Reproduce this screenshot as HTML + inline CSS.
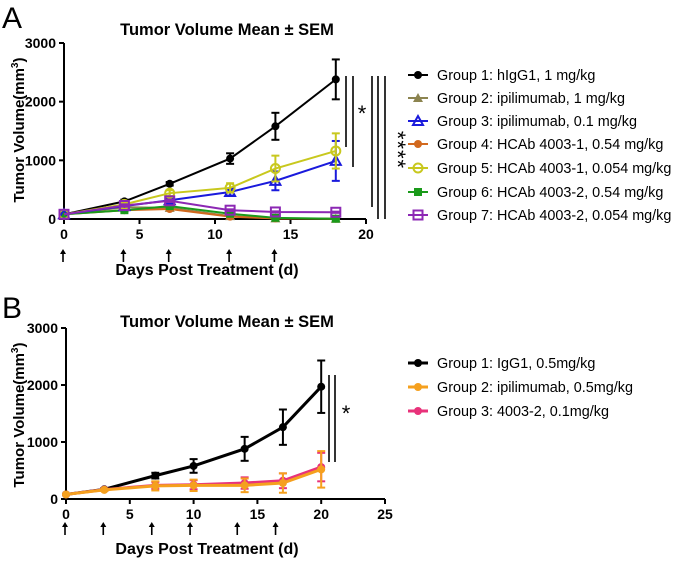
<!DOCTYPE html>
<html><head><meta charset="utf-8"><style>
body{margin:0;background:#fff;}
svg{display:block;font-family:"Liberation Sans",Arial,sans-serif;}
.b{font-weight:bold;}
</style></head><body>
<svg id="c" width="676" height="563" viewBox="0 0 676 563"></svg>
<script>
// Panel A data
const daysA=[0,4,7,11,14,18];
const namesA=["Group 1: hIgG1, 1 mg/kg","Group 2: ipilimumab, 1 mg/kg","Group 3: ipilimumab, 0.1 mg/kg","Group 4: HCAb 4003-1, 0.54 mg/kg","Group 5: HCAb 4003-1, 0.054 mg/kg","Group 6: HCAb 4003-2, 0.54 mg/kg","Group 7: HCAb 4003-2, 0.054 mg/kg"];
const g1A=[80,300,600,1030,1580,2380], g1AErr=[0,30,30,90,230,340];
const g2A=[80,200,190,50,10,5], g2AErr=[0,20,20,10,5,5];
const g3A=[80,220,320,460,650,990], g3AErr=[0,30,40,60,160,340];
const g4A=[80,150,170,40,10,5], g4AErr=[0,20,20,10,5,5];
const g5A=[80,250,440,530,860,1160], g5AErr=[0,30,50,80,220,300];
const g6A=[80,150,220,90,20,5], g6AErr=[0,20,20,10,5,5];
const g7A=[80,230,310,150,120,115], g7AErr=[0,20,20,15,10,10];
const xTicksA=[0,5,10,15,20], yTicks=[0,1000,2000,3000];
const doseDaysA=[0,4,7,11,14];
// Panel B data
const daysB=[0,3,7,10,14,17,20];
const namesB=["Group 1: IgG1, 0.5mg/kg","Group 2: ipilimumab, 0.5mg/kg","Group 3: 4003-2, 0.1mg/kg"];
const g1B=[80,170,410,580,880,1260,1970], g1BErr=[0,20,50,120,210,310,460];
const g2B=[80,160,230,240,240,280,520], g2BErr=[0,20,80,100,120,170,320];
const g3B=[80,165,240,250,280,320,560], g3BErr=[0,20,60,80,100,130,250];
const xTicksB=[0,5,10,15,20,25];
const doseDaysB=[0,3,6.8,9.8,13.5,16.5];

const S=document.getElementById('c'),NS='http://www.w3.org/2000/svg';
function el(t,a,p){const e=document.createElementNS(NS,t);for(const k in a)e.setAttribute(k,a[k]);(p||S).appendChild(e);return e;}
function tx(x,y,s,a,p){const e=el('text',Object.assign({x:x,y:y},a),p);e.textContent=s;return e;}

function marker(g,type,x,y,c){
  let m;
  if(type==='circle')m=el('circle',{cx:x,cy:y,r:4,fill:c},g);
  else if(type==='ocircle')m=el('circle',{cx:x,cy:y,r:4.5,fill:'none',stroke:c,'stroke-width':2},g);
  else if(type==='tri')m=el('polygon',{points:`${x},${y-5} ${x-5},${y+4} ${x+5},${y+4}`,fill:c},g);
  else if(type==='otri')m=el('polygon',{points:`${x},${y-5} ${x-5},${y+4} ${x+5},${y+4}`,fill:'none',stroke:c,'stroke-width':2},g);
  else if(type==='sq')m=el('rect',{x:x-4,y:y-4,width:8,height:8,fill:c},g);
  else m=el('rect',{x:x-4.5,y:y-4.5,width:9,height:9,fill:'none',stroke:c,'stroke-width':2},g);
  
  
}

function panel(o){
  const X=d=>o.x0+d*o.xs, Y=v=>o.y0-v*o.ys;
  const ax=el('g',{});
  
  
  el('line',{x1:o.x0,y1:Y(3000),x2:o.x0,y2:o.y0,stroke:'#000','stroke-width':2},ax);
  el('line',{x1:o.x0-1,y1:o.y0,x2:X(o.xmax),y2:o.y0,stroke:'#000','stroke-width':2},ax);
  yTicks.forEach(v=>{el('line',{x1:o.x0-5,y1:Y(v),x2:o.x0,y2:Y(v),stroke:'#000','stroke-width':2},ax);
    const t=tx(o.x0-8,Y(v)+5,v,{'text-anchor':'end','font-size':14,class:'b'},ax);
    });
  o.xt.forEach(v=>{el('line',{x1:X(v),y1:o.y0,x2:X(v),y2:o.y0+5,stroke:'#000','stroke-width':2},ax);
    const t=tx(X(v),o.y0+20,v,{'text-anchor':'middle','font-size':14,class:'b'},ax);
    });
  o.dose.forEach(d=>{const a=el('g',{},ax);
    
    const x=X(d)-1;el('line',{x1:x,y1:o.arY+13,x2:x,y2:o.arY+3,stroke:'#000','stroke-width':1.6},a);
    el('polygon',{points:`${x},${o.arY} ${x-3},${o.arY+5} ${x+3},${o.arY+5}`,fill:'#000'},a);});
  let t=tx(o.titleX,o.titleY,'Tumor Volume Mean ± SEM',{'text-anchor':'middle','font-size':16.5,class:'b'});
  
  t=tx(o.xlX,o.xlY,'Days Post Treatment (d)',{'text-anchor':'middle','font-size':16,class:'b'});
  
  t=el('text',{x:0,y:0,transform:`translate(${o.ylX},${o.ylY}) rotate(-90)`,'text-anchor':'middle','font-size':15,class:'b'});
  t.innerHTML='Tumor Volume(mm<tspan dy="-6" font-size="10">3</tspan><tspan dy="6">)</tspan>';
  
  t=tx(o.letX,o.letY,o.letter,{'font-size':30});
  
  o.series.forEach((s,i)=>{
    const g=el('g',{});
    
    s.v.forEach((v,j)=>{if(s.e[j]>0){const x=X(o.days[j]);
      el('line',{x1:x,y1:Y(v+s.e[j]),x2:x,y2:Y(v-s.e[j]),stroke:s.c,'stroke-width':2},g);
      el('line',{x1:x-4,y1:Y(v+s.e[j]),x2:x+4,y2:Y(v+s.e[j]),stroke:s.c,'stroke-width':2},g);
      el('line',{x1:x-4,y1:Y(v-s.e[j]),x2:x+4,y2:Y(v-s.e[j]),stroke:s.c,'stroke-width':2},g);}});
    el('polyline',{points:s.v.map((v,j)=>X(o.days[j])+','+Y(v)).join(' '),fill:'none',stroke:s.c,'stroke-width':s.w},g);
    s.v.forEach((v,j)=>marker(g,s.m,X(o.days[j]),Y(v),s.c));
    const lg=el('g',{});
    
    const ly=o.legY[s.k];
    el('line',{x1:408,y1:ly,x2:428,y2:ly,stroke:s.c,'stroke-width':s.w},lg);
    marker(lg,s.m,418,ly,s.c);
    tx(437,ly+5,o.names[s.k],{'font-size':14.4},lg);
  });
  o.sig.forEach(l=>{const ln=el('line',{x1:l[0],y1:l[1],x2:l[0],y2:l[2],stroke:'#000','stroke-width':1.6});
    });
}

panel({id:'panel-a',letter:'A',letX:2,letY:28,x0:64,xs:15.1,y0:219,ys:176/3000,xmax:20,xt:xTicksA,dose:doseDaysA,arY:249,
  titleX:227,titleY:35,xlX:207,xlY:275,ylX:24,ylY:130,days:daysA,names:namesA,
  legY:[75,98,121,144,168,192,215],
  series:[
   {k:0,v:g1A,e:g1AErr,c:'#000',m:'circle',w:2},
   {k:1,v:g2A,e:g2AErr,c:'#8c8450',m:'tri',w:2},
   {k:3,v:g4A,e:g4AErr,c:'#d2691e',m:'circle',w:2},
   {k:5,v:g6A,e:g6AErr,c:'#1a9a1a',m:'sq',w:2},
   {k:2,v:g3A,e:g3AErr,c:'#1a1adc',m:'otri',w:2},
   {k:4,v:g5A,e:g5AErr,c:'#c8c81e',m:'ocircle',w:2},
   {k:6,v:g7A,e:g7AErr,c:'#8c28b4',m:'osq',w:2}],
  sig:[[346,76,147],[353,76,167],[372,76,207],[378,76,219],[385,76,219]]});
let st=tx(362,121,'*',{'font-size':22,'text-anchor':'middle'});

st=el('text',{x:0,y:0,transform:'translate(390,150) rotate(90)','text-anchor':'middle','font-size':22,'letter-spacing':'1'});st.textContent='****';


panel({id:'panel-b',letter:'B',letX:2,letY:318,x0:66,xs:12.76,y0:499,ys:171/3000,xmax:25,xt:xTicksB,dose:doseDaysB,arY:522,
  titleX:227,titleY:327,xlX:207,xlY:554,ylX:24,ylY:415,days:daysB,names:namesB,
  legY:[363,387,411],
  series:[
   {k:0,v:g1B,e:g1BErr,c:'#000',m:'circle',w:3},
   {k:2,v:g3B,e:g3BErr,c:'#e8327a',m:'circle',w:3},
   {k:1,v:g2B,e:g2BErr,c:'#f5a01e',m:'circle',w:3}],
  sig:[[329,375,462],[335,375,462]]});
st=tx(346,421,'*',{'font-size':22,'text-anchor':'middle'});

</script>
</body></html>
